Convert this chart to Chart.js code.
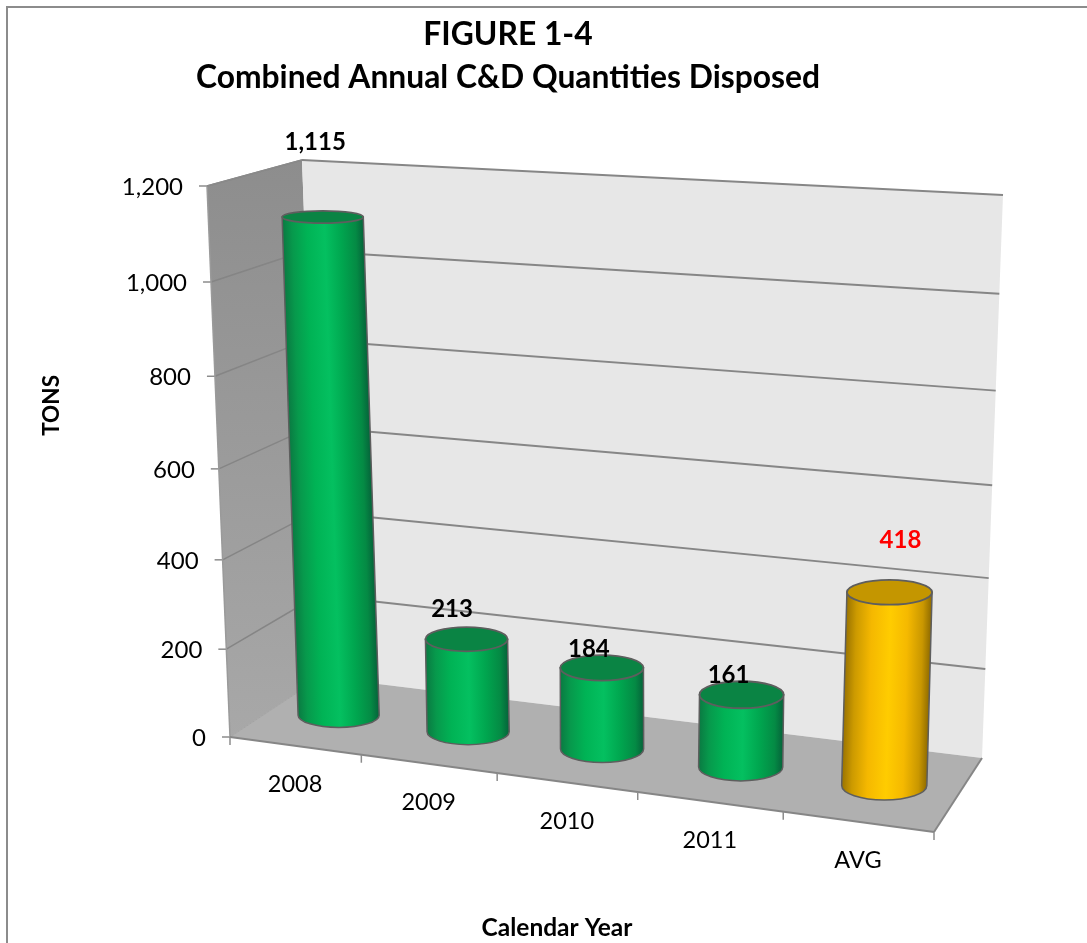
<!DOCTYPE html>
<html>
<head>
<meta charset="utf-8">
<style>html,body{margin:0;padding:0;background:#fff}canvas{display:block}</style>
<script src="https://cdn.jsdelivr.net/npm/chart.js@4/dist/chart.umd.min.js"></script>
</head>
<body>
<canvas id="c" width="1087" height="943"></canvas>
<script>
const categories = ['2008', '2009', '2010', '2011', 'AVG'];
const tons = [1115, 213, 184, 161, 418];
const valueLabels = ['1,115', '213', '184', '161', '418'];
const yMax = 1200;
const yStep = 200;

const FONT = 'Lato, "Open Sans", sans-serif';
const stopOffsets = [0, 0.12, 0.3, 0.52, 0.72, 0.9, 1];
const greenStops = ['#0a7a42', '#07994c', '#00b355', '#04c060', '#00a64f', '#048a44', '#05633a'];
const goldStops = ['#9a7300', '#cc9a00', '#f5b800', '#ffcc00', '#f5b900', '#c99700', '#8f6b00'];
const palettes = [greenStops, greenStops, greenStops, greenStops, goldStops];
const capColors = ['#0a8444', '#0a8444', '#0a8444', '#0a8444', '#c49600'];
const labelColors = ['#000', '#000', '#000', '#000', '#ff0000'];
const labelNudges = [[-7.5, -75], [-14.5, -30], [-13, -19], [-13, -19], [11, -52]];

// view box of the 3-D scene: bottom/top, front/back, left/right
const box = {
  bfl: [230, 737], bfr: [934, 832], bbl: [321, 677], bbr: [982, 758],
  tfl: [207, 186], tfr: [953, 232], tbl: [302, 160], tbr: [1003, 195]
};
const warp = (t, k) => t / (t + k * (1 - t));
const lerp = (a, b, t) => [a[0] + (b[0] - a[0]) * t, a[1] + (b[1] - a[1]) * t];
function project(u, v, d) {
  const U = warp(u, 1.09), V = warp(v, 1.055 + 0.01 * d);
  const bottom = lerp(lerp(box.bfl, box.bfr, U), lerp(box.bbl, box.bbr, U), d);
  const top = lerp(lerp(box.tfl, box.tfr, U), lerp(box.tbl, box.tbr, U), d);
  return lerp(bottom, top, V);
}
function poly(ctx, pts, fill) {
  ctx.beginPath();
  pts.forEach((p, i) => i ? ctx.lineTo(p[0], p[1]) : ctx.moveTo(p[0], p[1]));
  ctx.closePath();
  if (fill) { ctx.fillStyle = fill; ctx.fill(); }
}
function seg(ctx, a, b, color, w) {
  ctx.beginPath(); ctx.moveTo(a[0], a[1]); ctx.lineTo(b[0], b[1]);
  ctx.strokeStyle = color; ctx.lineWidth = w; ctx.stroke();
}
function cylinder(ctx, base, top, rx, ryB, ryT, stops, cap) {
  const dx = top[0] - base[0], dy = top[1] - base[1], len = Math.hypot(dx, dy) || 1;
  const nx = -dy / len, ny = dx / len;
  const s = nx > 0 || (nx === 0 && ny > 0) ? 1 : -1;
  const mx = (base[0] + top[0]) / 2, my = (base[1] + top[1]) / 2;
  const g = ctx.createLinearGradient(mx - s * nx * rx, my - s * ny * rx, mx + s * nx * rx, my + s * ny * rx);
  stopOffsets.forEach((o, i) => g.addColorStop(o, stops[i]));
  ctx.beginPath();
  ctx.moveTo(top[0] - rx, top[1]);
  ctx.lineTo(base[0] - rx, base[1]);
  ctx.ellipse(base[0], base[1], rx, ryB, 0, Math.PI, 0, true);
  ctx.lineTo(top[0] + rx, top[1]);
  ctx.closePath();
  ctx.fillStyle = g; ctx.fill();
  ctx.strokeStyle = '#5e5e5e'; ctx.lineWidth = 1.5; ctx.stroke();
  ctx.beginPath();
  ctx.ellipse(top[0], top[1], rx, ryT, 0, 0, Math.PI * 2);
  ctx.fillStyle = cap; ctx.fill();
  ctx.strokeStyle = '#5e5e5e'; ctx.lineWidth = 1.8; ctx.stroke();
}

const scene = {
  id: 'scene',
  beforeDraw(chart) {
    const ctx = chart.ctx;
    ctx.save();
    ctx.strokeStyle = '#8c8c8c'; ctx.lineWidth = 2;
    ctx.strokeRect(7, 7, 1300, 1300);
    ctx.restore();
  },
  beforeDatasetsDraw(chart) {
    const ctx = chart.ctx, xs = chart.scales.x, ys = chart.scales.y;
    const vOf = val => (ys.bottom - ys.getPixelForValue(val)) / ys.height;
    const uOf = i => (xs.getPixelForValue(i) - xs.left) / xs.width;
    ctx.save();
    // walls and floor
    const wall = ctx.createLinearGradient(0, 160, 0, 737);
    wall.addColorStop(0, '#8d8d8d'); wall.addColorStop(1, '#a8a8a8');
    poly(ctx, [box.tfl, box.tbl, box.bbl, box.bfl], wall);
    poly(ctx, [box.tbl, box.tbr, box.bbr, box.bbl], '#e7e7e7');
    poly(ctx, [box.bfl, box.bbl, box.bbr, box.bfr], '#b0b0b0');
    // value gridlines, tick stubs and tick labels
    ctx.font = '24px ' + FONT; ctx.textAlign = 'right'; ctx.textBaseline = 'middle';
    ys.ticks.forEach(t => {
      const v = vOf(t.value);
      const f = project(0, v, 0), b = project(0, v, 1), r = project(1, v, 1);
      if (t.value > 0) {
        seg(ctx, f, b, '#858585', 1.5);
        seg(ctx, b, r, '#868686', 2);
      }
      seg(ctx, [f[0] - 8, f[1]], f, '#8c8c8c', 1.5);
      ctx.fillStyle = '#000';
      ctx.fillText(t.label, f[0] - 24, f[1] + 1);
    });
    seg(ctx, box.tfl, box.bfl, '#9a9a9a', 1.5);
    seg(ctx, box.bfl, box.bbl, '#a3a3a3', 1);
    seg(ctx, box.tfl, box.tbl, '#8a8a8a', 1.5);
    seg(ctx, box.bfl, box.bfr, '#868686', 2);
    seg(ctx, box.bfr, box.bbr, '#868686', 2);
    // category ticks
    const n = categories.length;
    for (let i = 0; i <= n; i++) {
      const p = project(i / n, 0, 0);
      seg(ctx, p, [p[0], p[1] + 8], '#8c8c8c', 1.5);
    }
    // cylinders from the bar elements
    const meta = chart.getDatasetMeta(0);
    meta.data.forEach((el, i) => {
      const u = uOf(i), v = vOf(tons[i]);
      const halfU = el.width / 2 / xs.width;
      const base = project(u, 0, 0.5), top = project(u, v, 0.5);
      const rx = halfU * 700 * (0.96 + 0.06 * u);
      const ry = vv => (project(u, vv, 0.3)[1] - project(u, vv, 0.7)[1]) / 2;
      cylinder(ctx, base, top, rx, ry(0), ry(v) * 1.05, palettes[i], capColors[i]);
    });
    // data labels
    ctx.font = 'bold 24px ' + FONT; ctx.textAlign = 'center'; ctx.textBaseline = 'middle';
    meta.data.forEach((el, i) => {
      const top = project(uOf(i), vOf(tons[i]), 0.5);
      ctx.fillStyle = labelColors[i];
      ctx.fillText(valueLabels[i], top[0] + labelNudges[i][0], top[1] + labelNudges[i][1]);
    });
    // category labels
    ctx.font = '23.5px ' + FONT; ctx.fillStyle = '#000';
    categories.forEach((c, i) => {
      const p = project(uOf(i), 0, 0);
      ctx.fillText(c, p[0], p[1] + 38.5);
    });
    // horizontal axis title
    const xt = chart.options.scales.x.title;
    ctx.font = 'bold 24.5px ' + FONT;
    ctx.fillText(xt.text, 557, 928);
    ctx.restore();
  },
  beforeDatasetDraw() { return false; }
};

new Chart(document.getElementById('c'), {
  type: 'bar',
  data: {
    labels: categories,
    datasets: [{ label: 'TONS', data: tons, barPercentage: 0.8, categoryPercentage: 0.75 }]
  },
  options: {
    responsive: false,
    animation: false,
    events: [],
    layout: { padding: { left: 38, right: 148, top: 0, bottom: 291 } },
    plugins: {
      legend: { display: false },
      tooltip: { enabled: false },
      title: {
        display: true,
        fullSize: false,
        text: ['FIGURE 1-4', 'Combined Annual C&D Quantities Disposed'],
        color: '#000',
        font: { family: FONT, size: 31.8, weight: 'bold', lineHeight: 1.35 },
        padding: { top: 13, bottom: 60 }
      }
    },
    scales: {
      x: {
        display: false,
        title: { text: 'Calendar Year' }
      },
      y: {
        min: 0,
        max: yMax,
        ticks: { stepSize: yStep, display: false, callback: v => v.toLocaleString('en-US') },
        grid: { display: false },
        border: { display: false },
        title: {
          display: true,
          text: 'TONS',
          color: '#000',
          font: { family: FONT, size: 22.5, weight: 'bold' },
          padding: { top: 0, bottom: 4 }
        }
      }
    }
  },
  plugins: [scene]
});
</script>
</body>
</html>
